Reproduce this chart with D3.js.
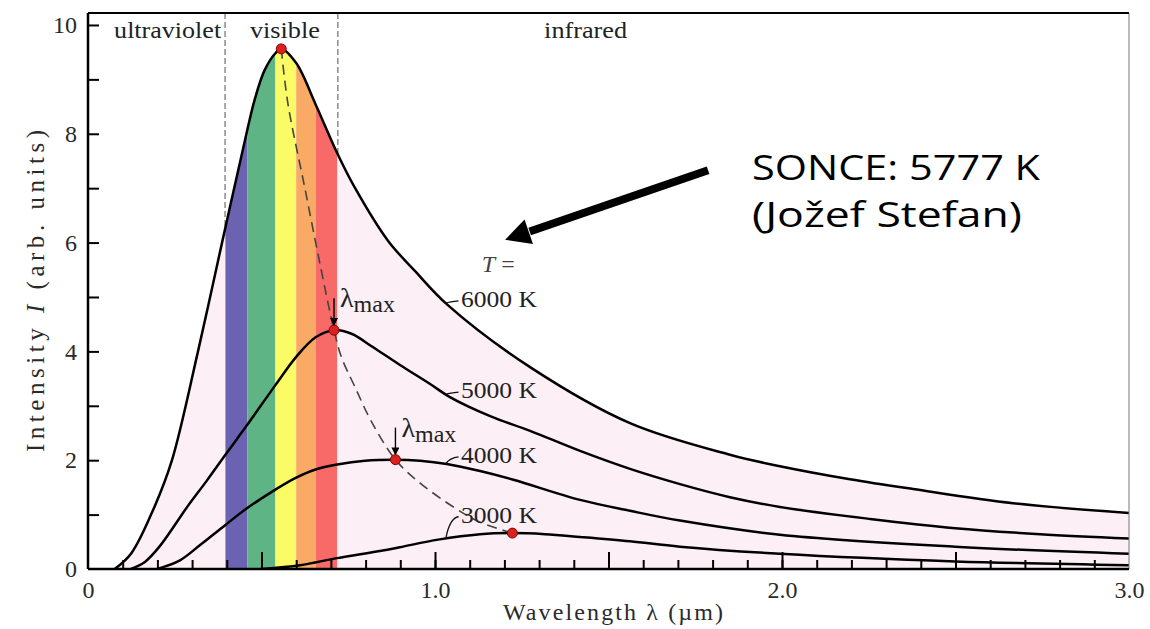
<!DOCTYPE html>
<html>
<head>
<meta charset="utf-8">
<script src="https://cdn.jsdelivr.net/npm/d3@7"></script>
<style>
  html, body { margin: 0; padding: 0; background: #fff; }
  svg { display: block; }
</style>
</head>
<body>
<svg id="chart" width="1150" height="629"></svg>
<script>
// ---- Data: blackbody spectra, intensity (arb. units) vs wavelength (µm) ----
const temps = ["6000 K", "5000 K", "4000 K", "3000 K"];

const lam6000 = [0.077, 0.125, 0.192, 0.242, 0.317, 0.386, 0.459, 0.480, 0.509, 0.540, 0.557, 0.600, 0.656, 0.720, 0.769, 0.865, 0.942, 1.037, 1.274, 1.562, 1.850, 1.994, 2.196, 2.378, 2.666, 3.0];
const int6000 = [0, 0.29, 1.15, 2.00, 4.00, 5.99, 8.07, 8.62, 9.17, 9.48, 9.56, 9.30, 8.54, 7.62, 7.01, 6.03, 5.48, 4.85, 3.71, 2.68, 2.10, 1.89, 1.65, 1.47, 1.21, 1.03];

const lam5000 = [0.124, 0.164, 0.207, 0.288, 0.342, 0.396, 0.459, 0.540, 0.600, 0.656, 0.709, 0.761, 0.816, 0.899, 0.986, 1.043, 1.159, 1.274, 1.418, 1.562, 1.706, 1.850, 1.994, 2.254, 2.499, 2.744, 3.0];
const int5000 = [0, 0.13, 0.42, 1.16, 1.62, 2.10, 2.65, 3.38, 3.90, 4.26, 4.39, 4.32, 4.10, 3.75, 3.40, 3.16, 2.81, 2.54, 2.17, 1.84, 1.56, 1.32, 1.14, 0.92, 0.75, 0.64, 0.56];

const lam4000 = [0.199, 0.265, 0.323, 0.396, 0.459, 0.540, 0.600, 0.656, 0.718, 0.798, 0.886, 0.957, 1.034, 1.130, 1.226, 1.418, 1.562, 1.706, 1.994, 2.499, 3.0];
const int4000 = [0, 0.16, 0.44, 0.81, 1.12, 1.46, 1.68, 1.83, 1.92, 1.99, 2.01, 1.99, 1.93, 1.80, 1.64, 1.27, 1.07, 0.89, 0.63, 0.41, 0.28];

const lam3000 = [0.501, 0.611, 0.718, 0.841, 0.899, 1.009, 1.130, 1.223, 1.317, 1.418, 1.562, 1.706, 1.994, 2.499, 3.0];
const int3000 = [0, 0.07, 0.20, 0.33, 0.40, 0.54, 0.64, 0.66, 0.64, 0.59, 0.51, 0.41, 0.28, 0.14, 0.07];

// Peak (λmax) of each curve and the locus joining them
const peakLam = [0.557, 0.709, 0.886, 1.223];
const peakInt = [9.56, 4.39, 2.01, 0.66];
const maxLam = [0.557, 0.576, 0.624, 0.672, 0.709, 0.730, 0.769, 0.816, 0.886, 0.957, 1.058, 1.130, 1.223];
const maxInt = [9.56, 8.56, 7.03, 5.50, 4.39, 3.90, 3.35, 2.72, 2.01, 1.58, 1.12, 0.86, 0.66];

// Visible colour bands (µm) and spectral regions
const bandEdges = [0.396, 0.459, 0.540, 0.600, 0.656, 0.718];
const bandColors = ["#6c62b2", "#5eb484", "#fbfb66", "#f9ab66", "#f76a68"];
const regionBounds = [0.395, 0.72];
const regionNames = ["ultraviolet", "visible", "infrared"];
const regionCenters = [0.2295, 0.5675, 1.434];
const regionWidths = [107, 70, 83];

// Tick labels
const xTickValues = [0, 1, 2, 3];
const xTickLabels = ["0", "1.0", "2.0", "3.0"];
const yTickValues = [0, 2, 4, 6, 8, 10];
const yTickLabels = ["0", "2", "4", "6", "8", "10"];

// Curve label anchors (wavelength, intensity of baseline)
const tempLabelLam = 1.075;
const tempLabelInt = [4.82, 3.14, 1.95, 0.85];

// ---- Layout ----
const plot = { left: 88, right: 1129, top: 13, bottom: 569 };
const serif = "'Liberation Serif', 'Times New Roman', serif";

const svg = d3.select("#chart");
const x = d3.scaleLinear().domain([0, 3]).range([plot.left, plot.right]);
const y = d3.scaleLinear().domain([0, 10.22]).range([plot.bottom, plot.top]);

const series = [
  d3.zip(lam6000, int6000),
  d3.zip(lam5000, int5000),
  d3.zip(lam4000, int4000),
  d3.zip(lam3000, int3000)
];

const smooth = d3.curveCatmullRom.alpha(0.5);
const line = d3.line().x(d => x(d[0])).y(d => y(d[1])).curve(smooth);
const area = d3.area().x(d => x(d[0])).y0(y(0)).y1(d => y(d[1])).curve(smooth);

// value of a curve at a wavelength (linear between readings)
function valueAt(pts, l) {
  const i = d3.bisector(d => d[0]).left(pts, l);
  if (i <= 0) return pts[0][1];
  if (i >= pts.length) return pts[pts.length - 1][1];
  const a = pts[i - 1], b = pts[i];
  return a[1] + (b[1] - a[1]) * (l - a[0]) / (b[0] - a[0]);
}

const defs = svg.append("defs");
defs.append("clipPath").attr("id", "plot-area")
  .append("rect")
  .attr("x", plot.left).attr("y", plot.top)
  .attr("width", plot.right - plot.left).attr("height", plot.bottom - plot.top);
defs.append("clipPath").attr("id", "under-hottest")
  .append("path").attr("d", area(series[0]));

// region boundaries (dashed), drawn under the fill
svg.append("g").selectAll("line").data(regionBounds).join("line")
  .attr("x1", d => x(d)).attr("x2", d => x(d))
  .attr("y1", plot.top).attr("y2", plot.bottom)
  .attr("stroke", "#7a7a7a").attr("stroke-width", 1.3)
  .attr("stroke-dasharray", "6,3");

// area under the hottest curve: pale fill plus visible colour bands
const fillG = svg.append("g").attr("clip-path", "url(#plot-area)")
  .append("g").attr("clip-path", "url(#under-hottest)");
fillG.append("rect")
  .attr("x", x(0)).attr("y", plot.top)
  .attr("width", x(3) - x(0)).attr("height", plot.bottom - plot.top)
  .attr("fill", "#fcf0f6");
fillG.selectAll("rect.band").data(bandColors).join("rect")
  .attr("class", "band")
  .attr("x", (d, i) => x(bandEdges[i]))
  .attr("width", (d, i) => x(bandEdges[i + 1]) - x(bandEdges[i]))
  .attr("y", plot.top).attr("height", plot.bottom - plot.top)
  .attr("fill", d => d);

// region names
svg.append("g").selectAll("text").data(regionNames).join("text")
  .attr("x", (d, i) => x(regionCenters[i]) - regionWidths[i] / 2)
  .attr("y", y(9.76))
  .attr("font-family", serif).attr("font-size", 24).attr("fill", "#222")
  .attr("textLength", (d, i) => regionWidths[i]).attr("lengthAdjust", "spacingAndGlyphs")
  .text(d => d);

// spectra and λmax locus, kept inside the frame
const curvesG = svg.append("g").attr("clip-path", "url(#plot-area)");
curvesG.selectAll("path.spectrum").data(series).join("path")
  .attr("class", "spectrum")
  .attr("d", line)
  .attr("fill", "none").attr("stroke", "#000").attr("stroke-width", 2.5);
curvesG.append("path")
  .attr("d", line(d3.zip(maxLam, maxInt)))
  .attr("fill", "none").attr("stroke", "#444").attr("stroke-width", 1.6)
  .attr("stroke-dasharray", "10,6");

// ---- Axes ----
function styleAxis(g) {
  g.select(".domain").remove();
  g.selectAll(".tick line").attr("stroke", "#000").attr("stroke-width", 2);
  g.selectAll(".tick text").attr("font-family", serif).attr("font-size", 24).attr("fill", "#2a2a2a");
}
svg.append("g").attr("transform", `translate(0,${plot.bottom})`)
  .call(d3.axisBottom(x).tickValues(d3.range(1, 30).map(i => i / 10)).tickSize(-9).tickFormat(""))
  .call(styleAxis);
svg.append("g").attr("transform", `translate(0,${plot.bottom})`)
  .call(d3.axisBottom(x).tickValues([0.5, 1, 1.5, 2, 2.5]).tickSize(-17).tickFormat(""))
  .call(styleAxis);
svg.append("g").attr("transform", `translate(0,${plot.bottom})`)
  .call(d3.axisBottom(x).tickValues(xTickValues).tickSize(0).tickPadding(12)
    .tickFormat((d, i) => xTickLabels[i]))
  .call(styleAxis);

svg.append("g").attr("transform", `translate(${plot.left},0)`)
  .call(d3.axisLeft(y).tickValues(d3.range(1, 11)).tickSize(-11).tickFormat(""))
  .call(styleAxis);
svg.append("g").attr("transform", `translate(${plot.left},0)`)
  .call(d3.axisLeft(y).tickValues(yTickValues).tickSize(0).tickPadding(11)
    .tickFormat((d, i) => yTickLabels[i]))
  .call(styleAxis);

// frame
svg.append("line").attr("x1", plot.right).attr("x2", plot.right)
  .attr("y1", plot.top).attr("y2", plot.bottom)
  .attr("stroke", "#777").attr("stroke-width", 1);
svg.append("line").attr("x1", plot.left).attr("x2", plot.right)
  .attr("y1", plot.top).attr("y2", plot.top)
  .attr("stroke", "#000").attr("stroke-width", 2.2);
svg.append("line").attr("x1", plot.left).attr("x2", plot.left)
  .attr("y1", plot.top).attr("y2", plot.bottom)
  .attr("stroke", "#000").attr("stroke-width", 2.5);
svg.append("line").attr("x1", plot.left).attr("x2", plot.right)
  .attr("y1", plot.bottom).attr("y2", plot.bottom)
  .attr("stroke", "#000").attr("stroke-width", 2.5);

// axis titles
const xTitle = svg.append("text")
  .attr("x", 613).attr("y", 620)
  .attr("text-anchor", "middle")
  .attr("font-family", serif).attr("font-size", 24).attr("fill", "#2a2a2a")
  .attr("textLength", 220).attr("lengthAdjust", "spacing");
xTitle.append("tspan").text("Wavelength  λ  (µm)");

const yTitle = svg.append("text")
  .attr("transform", "translate(44,291) rotate(-90)")
  .attr("text-anchor", "middle")
  .attr("font-family", serif).attr("font-size", 25).attr("fill", "#2a2a2a")
  .attr("textLength", 322).attr("lengthAdjust", "spacing");
yTitle.append("tspan").text("Intensity  ");
yTitle.append("tspan").attr("font-style", "italic").text("I");
yTitle.append("tspan").text("  (arb. units)");

// ---- Curve labels ----
svg.append("text")
  .attr("x", x(1.135)).attr("y", y(5.46))
  .attr("font-family", serif).attr("font-size", 24).attr("fill", "#444")
  .call(t => {
    t.append("tspan").attr("font-style", "italic").text("T");
    t.append("tspan").text(" =");
  });

const labelG = svg.append("g");
temps.forEach((t, i) => {
  const l0 = 1.031, l1 = 1.068;
  const yc = y(valueAt(series[i], l0));
  const ye = y(tempLabelInt[i]) - 6;
  labelG.append("path")
    .attr("d", `M${x(l0)},${yc} Q${x(l0) + 4},${ye + 1} ${x(l1)},${ye}`)
    .attr("fill", "none").attr("stroke", "#111").attr("stroke-width", 1.3);
  labelG.append("text")
    .attr("x", x(tempLabelLam)).attr("y", y(tempLabelInt[i]))
    .attr("font-family", serif).attr("font-size", 24).attr("fill", "#222")
    .attr("textLength", 76).attr("lengthAdjust", "spacingAndGlyphs")
    .text(t);
});

// λmax labels with arrows for the 5000 K and 4000 K peaks
defs.append("marker")
  .attr("id", "arrow-head").attr("viewBox", "0 0 10 10")
  .attr("refX", 9).attr("refY", 5)
  .attr("markerWidth", 8).attr("markerHeight", 8)
  .attr("markerUnits", "userSpaceOnUse")
  .attr("orient", "auto")
  .append("path").attr("d", "M0,0 L10,5 L0,10 Z").attr("fill", "#000");

[1, 2].forEach(i => {
  const px = x(peakLam[i]), py = y(peakInt[i]);
  svg.append("line")
    .attr("x1", px).attr("x2", px)
    .attr("y1", py - 32).attr("y2", py - 5)
    .attr("stroke", "#000").attr("stroke-width", 1.4)
    .attr("marker-end", "url(#arrow-head)");
  const t = svg.append("text")
    .attr("x", px + 6).attr("y", py - 23)
    .attr("font-family", serif).attr("fill", "#222");
  t.append("tspan").attr("font-size", 28).text("λ");
  t.append("tspan").attr("font-size", 24).attr("dy", 5).text("max");
});

// peak markers
svg.append("g").selectAll("circle").data(d3.zip(peakLam, peakInt)).join("circle")
  .attr("cx", d => x(d[0])).attr("cy", d => y(d[1])).attr("r", 5)
  .attr("fill", "#de1f1f").attr("stroke", "#7a0a0a").attr("stroke-width", 1);

// ---- Annotation: the Sun ----
const tail = [x(1.787), y(7.33)];
const tip = [x(1.202), y(6.05)];
const dx = tail[0] - tip[0], dy = tail[1] - tip[1];
const len = Math.hypot(dx, dy);
const ux = dx / len, uy = dy / len;
const headLen = 25, headHalf = 13;
const base = [tip[0] + ux * headLen, tip[1] + uy * headLen];
svg.append("line")
  .attr("x1", tail[0]).attr("y1", tail[1])
  .attr("x2", base[0] + ux * 1).attr("y2", base[1] + uy * 1)
  .attr("stroke", "#000").attr("stroke-width", 8);
svg.append("path")
  .attr("d", `M${tip[0]},${tip[1]} L${base[0] - uy * headHalf},${base[1] + ux * headHalf} L${base[0] + uy * headHalf},${base[1] - ux * headHalf} Z`)
  .attr("fill", "#000");

const sans = "'Open Sans', 'Noto Sans', sans-serif";
svg.append("text")
  .attr("x", 752).attr("y", 180)
  .attr("font-family", sans).attr("font-size", 35).attr("fill", "#000")
  .attr("textLength", 288).attr("lengthAdjust", "spacingAndGlyphs")
  .text("SONCE: 5777 K");
svg.append("text")
  .attr("x", 752).attr("y", 227)
  .attr("font-family", sans).attr("font-size", 35).attr("fill", "#000")
  .attr("textLength", 270).attr("lengthAdjust", "spacingAndGlyphs")
  .text("(Jožef Stefan)");
</script>
</body>
</html>
